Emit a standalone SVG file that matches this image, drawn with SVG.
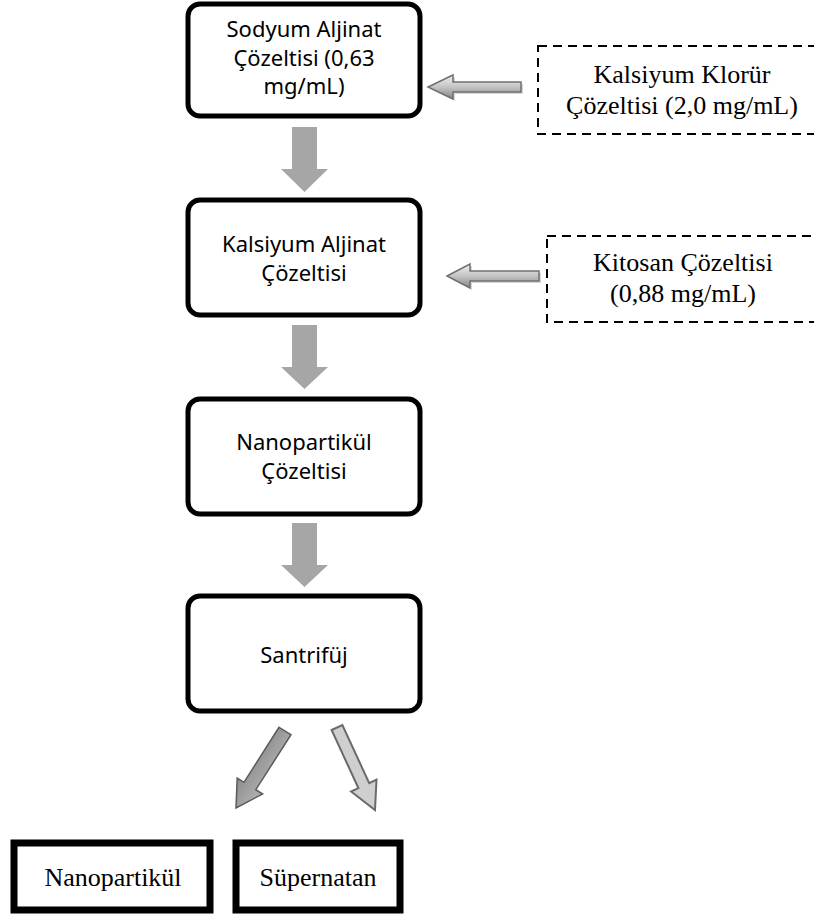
<svg xmlns="http://www.w3.org/2000/svg" width="814" height="917" viewBox="0 0 814 917">
<defs>
<linearGradient id="hg" x1="0" y1="0" x2="0" y2="1">
<stop offset="0" stop-color="#f0f0f0"/><stop offset="0.5" stop-color="#c4c4c4"/><stop offset="1" stop-color="#858585"/>
</linearGradient>
<linearGradient id="dg" x1="0" y1="0" x2="1" y2="1">
<stop offset="0" stop-color="#6a6a6a"/><stop offset="0.5" stop-color="#a0a0a0"/><stop offset="1" stop-color="#d8d8d8"/>
</linearGradient>
</defs>
<style>
.box{fill:#fff;stroke:#000;stroke-width:5}
.dash{fill:#fff;stroke:#000;stroke-width:2;stroke-dasharray:9 6}
.sq{fill:#fff;stroke:#000;stroke-width:7}
.t{font-family:"Noto Sans","Open Sans",sans-serif;font-size:22px;fill:#000;text-anchor:middle}
.s{font-family:"Liberation Serif","Times New Roman",serif;font-size:26px;fill:#000;text-anchor:middle}
.down{fill:#a6a6a6}
.harr{fill:url(#hg);stroke:#707070;stroke-width:1.5}
.shadow{fill:#bdbdbd;opacity:0.6}
</style>
<g id="connectors">
<polygon class="down" points="292,127 317,127 317,169 328,169 304.5,192 281,169 292,169"/>
<polygon class="down" points="292,325 317,325 317,367 328,367 304.5,389 281,367 292,367"/>
<polygon class="down" points="292,523 317,523 317,565 328,565 304.5,587 281,565 292,565"/>
<polygon class="shadow" points="430,89 455,77 455,84 523,84 523,94 455,94 455,101"/>
<polygon class="harr" points="428,87 453,75 453,82 521,82 521,92 453,92 453,99"/>
<polygon class="shadow" points="449,278 472,266 472,273 541,273 541,283 472,283 472,290"/>
<polygon class="harr" points="447,276 470,264 470,271 539,271 539,281 470,281 470,288"/>
<polygon fill="url(#dg)" stroke="#5a5a5a" stroke-width="1.5" points="279,727.3 291,734.7 255.8,789.7 262.6,794 236,808 237.2,778 244,782.3"/>
<polygon fill="#cfcfcf" stroke="#6a6a6a" stroke-width="2" points="331.6,730 342.4,725 369.2,783.1 376.5,779.7 375,810 351.1,791.5 358.4,788.1"/>
</g>
<g id="n1">
<rect class="box" x="188" y="4" width="232" height="112" rx="12"/>
<text class="t" x="304" y="37">Sodyum Aljinat</text>
<text class="t" x="304" y="66">Çözeltisi (0,63</text>
<text class="t" x="304" y="94">mg/mL)</text>
</g>
<g id="n2">
<rect class="box" x="188" y="200" width="232" height="115" rx="12"/>
<text class="t" x="304" y="252">Kalsiyum Aljinat</text>
<text class="t" x="304" y="281">Çözeltisi</text>
</g>
<g id="n3">
<rect class="box" x="188" y="399" width="232" height="115" rx="12"/>
<text class="t" x="304" y="450">Nanopartikül</text>
<text class="t" x="304" y="479">Çözeltisi</text>
</g>
<g id="n4">
<rect class="box" x="188" y="596" width="232" height="115" rx="12"/>
<text class="t" x="304" y="663">Santrifüj</text>
</g>
<g id="n5">
<rect class="dash" x="538" y="46" width="290" height="88"/>
<text class="s" x="682" y="83">Kalsiyum Klorür</text>
<text class="s" x="682" y="114">Çözeltisi (2,0 mg/mL)</text>
</g>
<g id="n6">
<rect class="dash" x="547" y="236" width="280" height="86"/>
<text class="s" x="683" y="271">Kitosan Çözeltisi</text>
<text class="s" x="683" y="302">(0,88 mg/mL)</text>
</g>
<g id="n7">
<rect class="sq" x="14" y="843" width="196" height="67"/>
<text class="s" x="113" y="886">Nanopartikül</text>
</g>
<g id="n8">
<rect class="sq" x="236" y="843" width="164" height="67"/>
<text class="s" x="318" y="886">Süpernatan</text>
</g>
</svg>
